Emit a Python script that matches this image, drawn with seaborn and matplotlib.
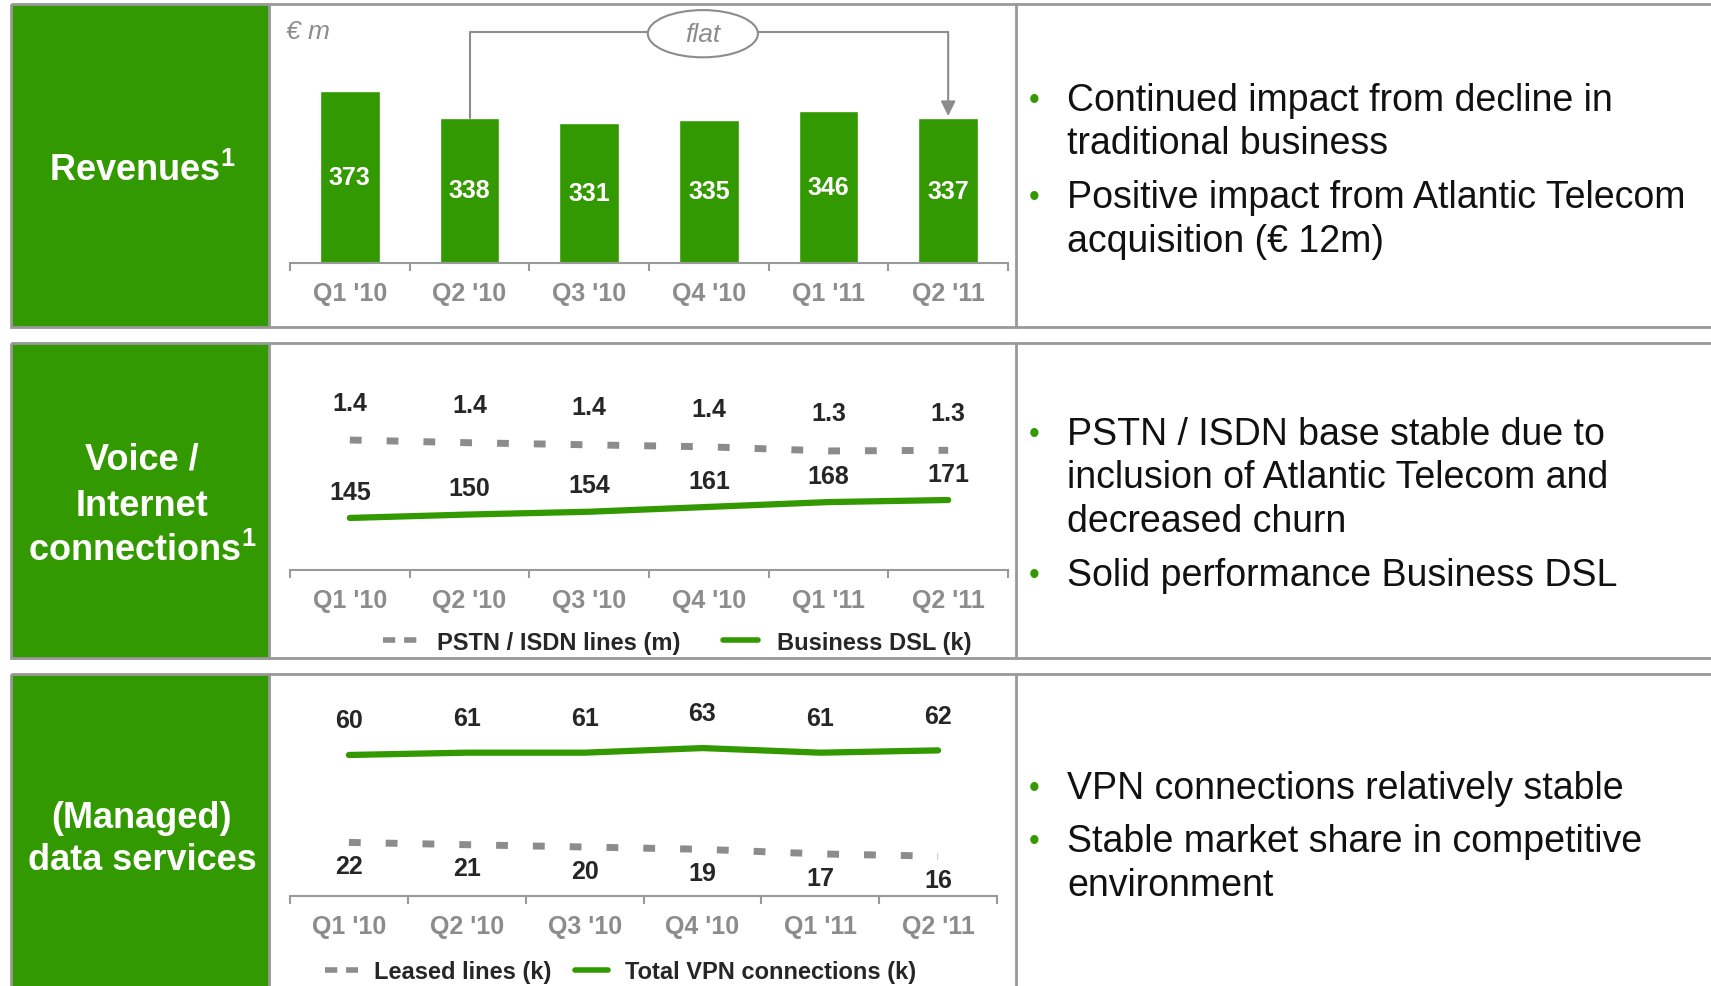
import numpy as np
import matplotlib
matplotlib.use("Agg")
import matplotlib.pyplot as plt
from matplotlib.patches import Rectangle, Ellipse
from matplotlib.lines import Line2D
import seaborn as sns

quarters = ["Q1 '10", "Q2 '10", "Q3 '10", "Q4 '10", "Q1 '11", "Q2 '11"]
revenue = [373, 338, 331, 335, 346, 337]
pstn_lines = [1.42, 1.40, 1.385, 1.37, 1.34, 1.345]   # m, labels rounded to 1 dp
business_dsl = [145, 150, 154, 161, 168, 171]         # k
leased_lines = [22, 21, 20, 19, 17, 16]               # k
vpn_connections = [60, 61, 61, 63, 61, 62]            # k

W, H = 1711, 987
GREEN = "#339900"
GRAY = "#8c8c8c"
BORDER = "#999999"

sns.set_style("white")
plt.rcParams["font.family"] = ["Liberation Sans", "DejaVu Sans"]
plt.rcParams["mathtext.fontset"] = "custom"
plt.rcParams["mathtext.rm"] = "Liberation Sans:bold"
plt.rcParams["mathtext.it"] = "Liberation Sans:bold"
plt.rcParams["mathtext.bf"] = "Liberation Sans:bold"

fig = plt.figure(figsize=(W / 100, H / 100), dpi=100)


def px_axes(x0, y0, x1, y1):
    # box in pixels, origin top left
    return fig.add_axes([x0 / W, 1 - y1 / H, (x1 - x0) / W, (y1 - y0) / H])


def style_axis(ax):
    ax.set_facecolor("none")
    for s in ["left", "right", "top"]:
        ax.spines[s].set_visible(False)
    ax.spines["bottom"].set_color(BORDER)
    ax.spines["bottom"].set_linewidth(1.5)
    ax.set_xlim(-0.5, 5.5)
    ax.set_xticks(range(len(quarters)), quarters)
    ax.set_xticks(np.arange(-0.5, 6, 1), minor=True)
    ax.tick_params(axis="x", which="major", bottom=True, length=0, pad=13,
                   labelsize=18, labelcolor=GRAY)
    ax.tick_params(axis="x", which="minor", bottom=True, length=6, width=1.5,
                   color=BORDER, direction="out")
    for t in ax.get_xticklabels():
        t.set_fontweight("bold")
    ax.set_yticks([])
    ax.set_xlabel("")
    ax.set_ylabel("")


# background: panels, green title boxes, dividers
bg = px_axes(0, 0, W, H)
bg.set_xlim(0, W)
bg.set_ylim(H, 0)
bg.axis("off")

panels = [(5, 328), (344, 659), (675, 1000)]
for top, bottom in panels:
    bg.add_patch(Rectangle((12, top), 257, bottom - top, color=GREEN, zorder=1))
    bg.add_patch(Rectangle((11, top), W, bottom - top, fill=False, ec=BORDER,
                           lw=2, zorder=2))
    bg.plot([269, 269], [top, bottom], color=BORDER, lw=2, zorder=2)
    bg.plot([1016, 1016], [top, bottom], color=BORDER, lw=2, zorder=2)

titles = [
    (["Revenues$^1$"], [171]),
    (["Voice /", "Internet", "connections$^1$"], [460, 506, 551]),
    (["(Managed)", "data services"], [818, 860]),
]
for lines, ys in titles:
    for txt, y in zip(lines, ys):
        bg.text(142, y, txt, ha="center", va="center", color="white",
                fontsize=26, fontweight="bold")

notes = [
    [(101, True, "Continued impact from decline in"),
     (144, False, "traditional business"),
     (198, True, "Positive impact from Atlantic Telecom"),
     (242, False, "acquisition (€ 12m)")],
    [(435, True, "PSTN / ISDN base stable due to"),
     (478, False, "inclusion of Atlantic Telecom and"),
     (522, False, "decreased churn"),
     (576, True, "Solid performance Business DSL")],
    [(789, True, "VPN connections relatively stable"),
     (842, True, "Stable market share in competitive"),
     (886, False, "environment")],
]
for block in notes:
    for y, bullet, txt in block:
        if bullet:
            bg.text(1034, y, "•", ha="center", va="center", color=GREEN,
                    fontsize=22)
        bg.text(1067, y, txt, ha="left", va="center", color="#111111",
                fontsize=27)

bg.text(286, 32, "€ m", ha="left", va="center", color=GRAY, fontsize=19,
        style="italic")

# revenues bar chart
ax1 = px_axes(290, 5, 1008, 264)
sns.barplot(x=quarters, y=revenue, color=GREEN, saturation=1, width=0.5,
            ax=ax1)
ax1.set_ylim(147, 487)
style_axis(ax1)
base = ax1.get_ylim()[0]
for i, v in enumerate(revenue):
    ax1.text(i, (base + v) / 2, str(v), ha="center", va="center",
             color="white", fontsize=18, fontweight="bold")

y_flat = 450
ax1.plot([1, 1, 5], [revenue[1], y_flat, y_flat], color=GRAY, lw=1.5,
         clip_on=False)
ax1.annotate("", xy=(5, revenue[5] + 3), xytext=(5, y_flat),
             arrowprops=dict(arrowstyle="-|>", color=GRAY, lw=1.5,
                             mutation_scale=22, shrinkA=0, shrinkB=0))
ax1.add_patch(Ellipse((2.95, y_flat - 2), 0.92, 62, fc="white", ec=GRAY,
                      lw=1.5, zorder=5, clip_on=False))
ax1.text(2.95, y_flat - 2, "flat", ha="center", va="center", color=GRAY,
         fontsize=19, style="italic", zorder=6)

x = np.arange(len(quarters))

# voice / internet lines
ax2 = px_axes(290, 345, 1008, 571)
sns.lineplot(x=x, y=business_dsl, color=GREEN, lw=4.5, solid_capstyle="round",
             ax=ax2)
ax2.set_ylim(69.6, 397)
style_axis(ax2)
ax2b = ax2.twinx()
sns.lineplot(x=x, y=pstn_lines, color=GRAY, lw=5, linestyle=(0, (1.7, 3.6)),
             dash_capstyle="butt", ax=ax2b)
ax2b.set_ylim(0.471, 2.121)
ax2b.set_xlim(-0.5, 5.5)
ax2b.set_yticks([])
ax2b.set_ylabel("")
for s in ax2b.spines.values():
    s.set_visible(False)

for i, v in enumerate(business_dsl):
    ax2.annotate(str(v), (i, v), xytext=(0, 19), textcoords="offset points",
                 ha="center", va="center", fontsize=18, fontweight="bold")
for i, v in enumerate(pstn_lines):
    ax2b.annotate(f"{v:.1f}", (i, v), xytext=(0, 27), textcoords="offset points",
                  ha="center", va="center", fontsize=18, fontweight="bold")

h2 = [Line2D([], [], color=GRAY, lw=4, ls=(0, (2.2, 1.6)), dash_capstyle="butt"),
      Line2D([], [], color=GREEN, lw=4)]
ax2.legend(h2, ["PSTN / ISDN lines (m)", "Business DSL (k)"], loc="center",
           bbox_to_anchor=(0.539, -0.319), ncol=2, frameon=False,
           prop=dict(weight="bold", size=17), handlelength=1.5,
           handletextpad=0.8, columnspacing=1.8)

# data services lines
ax3 = px_axes(290, 675, 997, 897)
sns.lineplot(x=x, y=vpn_connections, color=GREEN, lw=4.5,
             solid_capstyle="round", ax=ax3)
sns.lineplot(x=x, y=leased_lines, color=GRAY, lw=5, linestyle=(0, (1.7, 3.6)),
             dash_capstyle="butt", ax=ax3)
ax3.set_ylim(-1.3, 95.2)
style_axis(ax3)
for i, v in enumerate(vpn_connections):
    ax3.annotate(str(v), (i, v), xytext=(0, 25), textcoords="offset points",
                 ha="center", va="center", fontsize=18, fontweight="bold")
for i, v in enumerate(leased_lines):
    ax3.annotate(str(v), (i, v), xytext=(0, -17), textcoords="offset points",
                 ha="center", va="center", fontsize=18, fontweight="bold")

h3 = [Line2D([], [], color=GRAY, lw=4, ls=(0, (2.2, 1.6)), dash_capstyle="butt"),
      Line2D([], [], color=GREEN, lw=4)]
ax3.legend(h3, ["Leased lines (k)", "Total VPN connections (k)"], loc="center",
           bbox_to_anchor=(0.467, -0.342), ncol=2, frameon=False,
           prop=dict(weight="bold", size=17), handlelength=1.4,
           handletextpad=0.7, columnspacing=1.0)

fig.savefig("out.png", dpi=100)
